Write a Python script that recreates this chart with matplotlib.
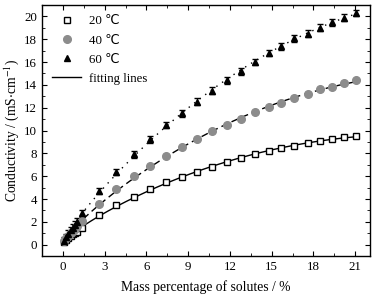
import matplotlib
matplotlib.use('Agg')
import matplotlib.pyplot as plt
import numpy as np
from matplotlib.ticker import MultipleLocator

plt.rcParams['font.family'] = ['Liberation Serif', 'DejaVu Sans', 'Noto Sans CJK SC']
plt.rcParams['mathtext.fontset'] = 'stix'

# mass percentage of solutes / %
mass = [0.1, 0.25, 0.4, 0.55, 0.7, 0.85, 1.0, 1.38, 2.57, 3.84, 5.13, 6.26, 7.4,
        8.56, 9.6, 10.7, 11.8, 12.8, 13.8, 14.8, 15.7, 16.6, 17.6, 18.5, 19.3,
        20.2, 21.05]
# conductivity / (mS cm-1)
cond_20 = [0.25, 0.45, 0.6, 0.75, 0.9, 1.05, 1.15, 1.5, 2.56, 3.5, 4.2, 4.87, 5.5,
           5.93, 6.37, 6.81, 7.2, 7.6, 7.93, 8.19, 8.46, 8.66, 8.93, 9.07, 9.22,
           9.4, 9.54]
cond_40 = [0.3, 0.55, 0.8, 1.0, 1.2, 1.4, 1.6, 2.1, 3.58, 4.84, 5.99, 6.93, 7.8,
           8.52, 9.25, 9.96, 10.48, 11.01, 11.63, 12.07, 12.45, 12.84, 13.2, 13.6,
           13.8, 14.16, 14.39]
cond_60 = [0.35, 0.65, 0.95, 1.25, 1.5, 1.75, 2.0, 2.76, 4.7, 6.37, 7.93, 9.25, 10.48,
           11.5, 12.54, 13.5, 14.39, 15.18, 16.0, 16.8, 17.4, 18.1, 18.5, 19.0,
           19.5, 19.9, 20.3]
err_20 = 0.15
err_40 = 0.15
err_60 = 0.3

fig = plt.figure(figsize=(3.74, 2.95), dpi=100)
ax = fig.add_axes([0.1123, 0.132, 0.8767, 0.851])

x = np.array(mass)
xf = np.linspace(0, 21.05, 300)
fit_styles = [(cond_20, '-'), (cond_40, (0, (5, 3))), (cond_60, (0, (1, 4)))]
for ys, ls in fit_styles:
    # least squares on sqrt(x), x, x^2
    A = np.column_stack([np.sqrt(x), x, x ** 2])
    c = np.linalg.lstsq(A, np.array(ys), rcond=None)[0]
    yf = c[0] * np.sqrt(xf) + c[1] * xf + c[2] * xf ** 2
    ax.plot(xf, yf, color='black', lw=1.0, ls=ls, zorder=1)

ax.errorbar(mass, cond_20, yerr=err_20, fmt='s', ms=4.5, mfc='white', mec='black',
            mew=1.0, ecolor='black', elinewidth=0.8, capsize=2, zorder=3)
ax.errorbar(mass, cond_40, yerr=err_40, fmt='o', ms=5.5, mfc='#8c8c8c', mec='#8c8c8c',
            ecolor='#8c8c8c', elinewidth=0.8, capsize=2, zorder=3)
ax.errorbar(mass, cond_60, yerr=err_60, fmt='^', ms=4.5, mfc='black', mec='black',
            ecolor='black', elinewidth=0.8, capsize=2, zorder=3)

h1, = ax.plot([], [], 's', ms=4.5, mfc='white', mec='black', mew=1.0)
h2, = ax.plot([], [], 'o', ms=5.5, mfc='#8c8c8c', mec='#8c8c8c')
h3, = ax.plot([], [], '^', ms=5, mfc='black', mec='black')
h4, = ax.plot([], [], '-', color='black', lw=1.0)
ax.legend([h1, h2, h3, h4], ['20 \u2103', '40 \u2103', '60 \u2103', 'fitting lines'],
          loc='upper left', frameon=False, fontsize=9.3, handlelength=2.2,
          handletextpad=0.6, labelspacing=0.55, borderaxespad=0.5,
          borderpad=0.3)

ax.set_xlim(-1.5, 22.05)
ax.set_ylim(-1, 21)
ax.set_xticks(np.arange(0, 22, 3))
ax.set_yticks(np.arange(0, 21, 2))
ax.xaxis.set_minor_locator(MultipleLocator(1.5))
ax.yaxis.set_minor_locator(MultipleLocator(1))
ax.tick_params(which='both', direction='in', top=True, right=True, labelsize=9.3)
ax.tick_params(which='major', length=3.5, width=0.8)
ax.tick_params(which='minor', length=2, width=0.6)
for s in ax.spines.values():
    s.set_linewidth(1.0)

ax.set_xlabel('Mass percentage of solutes / %', fontsize=9.8, labelpad=5)
ax.set_ylabel('Conductivity / (mS$\\cdot$cm$^{-1}$)', fontsize=9.8, labelpad=2)

plt.savefig('out.png', dpi=100)
